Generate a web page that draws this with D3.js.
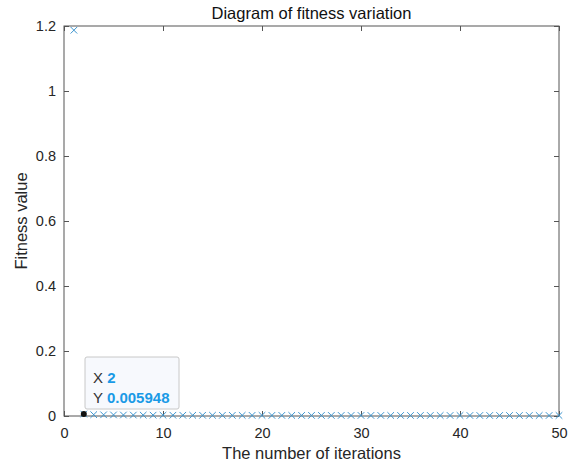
<!DOCTYPE html>
<html><head><meta charset="utf-8">
<script src="https://cdn.jsdelivr.net/npm/d3@7"></script>
<style>body{margin:0;background:#fff}svg{display:block}text{font-family:"Liberation Sans",Arial,sans-serif}</style>
</head><body><svg id="c" width="574" height="468"></svg>
<script>
const iterations = d3.range(1, 51);
const fitness = [1.187, 0.005948, 0.00412, 0.00365, 0.00331, 0.00302, 0.00287, 0.00271, 0.00259, 0.00248,
  0.00239, 0.00231, 0.00224, 0.00218, 0.00213, 0.00208, 0.00204, 0.00200, 0.00197, 0.00194,
  0.00191, 0.00188, 0.00186, 0.00184, 0.00182, 0.00180, 0.00178, 0.00177, 0.00175, 0.00174,
  0.00173, 0.00172, 0.00171, 0.00170, 0.00169, 0.00168, 0.00167, 0.00166, 0.00166, 0.00165,
  0.00164, 0.00164, 0.00163, 0.00163, 0.00162, 0.00162, 0.00161, 0.00161, 0.00160, 0.00160];
const xTicks = [0, 10, 20, 30, 40, 50];
const yTicks = [0, 0.2, 0.4, 0.6, 0.8, 1, 1.2];
const titleText = "Diagram of fitness variation";
const xLabel = "The number of iterations";
const yLabel = "Fitness value";
const tipIndex = 1;
const tipYText = "0.005948";

const svg = d3.select("#c");
const L = 64, R = 559, T = 26, B = 416;
const x = d3.scaleLinear().domain([0, 50]).range([L, R]);
const y = d3.scaleLinear().domain([0, 1.2]).range([B, T]);
const axisColor = "#555";
const tickLen = 5;

// axes box
svg.append("rect").attr("x", L).attr("y", T).attr("width", R - L).attr("height", B - T)
  .attr("fill", "none").attr("stroke", axisColor).attr("stroke-width", 1);

const xa = svg.append("g").attr("transform", `translate(0,${B})`)
  .call(d3.axisBottom(x).tickValues(xTicks).tickFormat(d3.format("d")).tickSizeInner(-tickLen).tickSizeOuter(0).tickPadding(12));
const xt = svg.append("g").attr("transform", `translate(0,${T})`)
  .call(d3.axisTop(x).tickValues(xTicks).tickFormat("").tickSizeInner(-tickLen).tickSizeOuter(0));
const ya = svg.append("g").attr("transform", `translate(${L},0)`)
  .call(d3.axisLeft(y).tickValues(yTicks).tickFormat(d => d3.format("~g")(d)).tickSizeInner(-tickLen).tickSizeOuter(0).tickPadding(8));
const yr = svg.append("g").attr("transform", `translate(${R},0)`)
  .call(d3.axisRight(y).tickValues(yTicks).tickFormat("").tickSizeInner(-tickLen).tickSizeOuter(0));
[xa, xt, ya, yr].forEach(a => {
  a.select(".domain").remove();
  a.selectAll("line").attr("stroke", axisColor);
  a.selectAll("text").attr("fill", "#262626").style("font-size", "14.5px")
    .style("font-family", '"Liberation Sans",Arial,sans-serif');
});

// markers
const s = 3.3;
const pts = svg.append("g").attr("stroke", "#3d95cf").attr("stroke-width", 1).attr("fill", "none");
iterations.forEach((it, i) => {
  const cx = x(it), cy = y(fitness[i]);
  pts.append("path").attr("d", `M${cx - s},${cy - s}L${cx + s},${cy + s}M${cx - s},${cy + s}L${cx + s},${cy - s}`);
});

// title and labels
svg.append("text").attr("x", (L + R) / 2).attr("y", 19).attr("text-anchor", "middle")
  .attr("fill", "#111").style("font-size", "16.5px").text(titleText);
svg.append("text").attr("x", (L + R) / 2).attr("y", 459).attr("text-anchor", "middle")
  .attr("fill", "#262626").style("font-size", "16.5px").text(xLabel);
svg.append("text").attr("transform", `translate(27,${(T + B) / 2}) rotate(-90)`).attr("text-anchor", "middle")
  .attr("fill", "#262626").style("font-size", "16.5px").text(yLabel);

// data tip
const tx = x(iterations[tipIndex]), ty = y(fitness[tipIndex]);
const tip = svg.append("g");
tip.append("rect").attr("x", 85).attr("y", 357).attr("width", 94).attr("height", 52).attr("rx", 2)
  .attr("fill", "#f7f9fd").attr("stroke", "#c8c8c8").attr("stroke-width", 1);
tip.append("circle").attr("cx", tx).attr("cy", ty).attr("r", 3).attr("fill", "#111");
const t1 = tip.append("text").attr("x", 93).attr("y", 383).style("font-size", "15px");
t1.append("tspan").attr("fill", "#333").text("X ");
t1.append("tspan").attr("fill", "#1a9ae6").attr("font-weight", "bold").text(String(iterations[tipIndex]));
const t2 = tip.append("text").attr("x", 93).attr("y", 403).style("font-size", "15px");
t2.append("tspan").attr("fill", "#333").text("Y ");
t2.append("tspan").attr("fill", "#1a9ae6").attr("font-weight", "bold").text(tipYText);
</script></body></html>
